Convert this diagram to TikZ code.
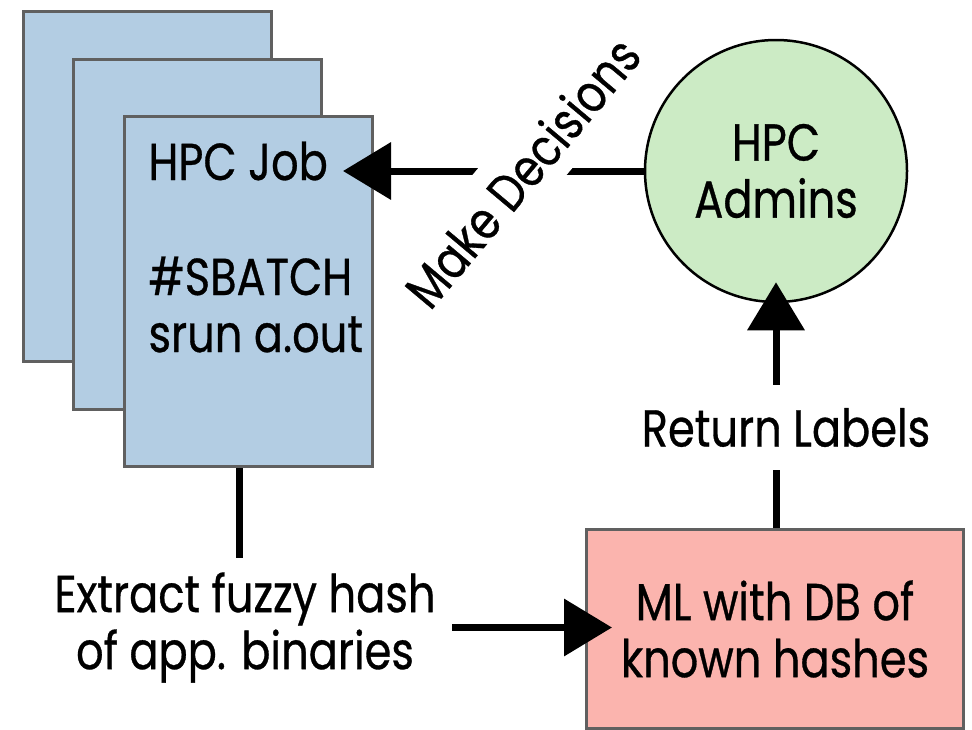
\documentclass[tikz,border=0pt]{standalone}
\usepackage{fontspec}
\setmainfont{Poppins}[FakeStretch=0.83, FakeBold=0.6]
\usepackage{tikz}
\usetikzlibrary{positioning,calc,arrows.meta}
\definecolor{jobblue}{RGB}{179,205,227}
\definecolor{admingreen}{RGB}{204,235,197}
\definecolor{mlpink}{RGB}{251,180,174}
\definecolor{cardgray}{RGB}{96,96,96}

\begin{document}
\begin{tikzpicture}[x=1pt,y=-1pt,
    card/.style={draw=cardgray, line width=3pt, fill=jobblue, minimum width=248pt, minimum height=350pt, anchor=north west, inner sep=0pt},
    lbl/.style={font=\fontsize{52}{57}\selectfont, align=center},
    link/.style={line width=7pt},
    arrow/.style={line width=7pt, -{Triangle[length=48pt,width=56pt]}}]
    \useasboundingbox (0,0) rectangle (972,729);

    % Stack of job scripts
    \node[card] (jobback) at (22,10) {};
    \node[card] (jobmid) at (72,58) {};
    \node[card] (job) at (123,115) {};
    \node[lbl, align=left, anchor=base west] (jobtext) at (145,352) {HPC Job\\[58pt]\#SBATCH\\srun a.out};

    % Admins and ML box
    \node[lbl, circle, draw, line width=2.5pt, fill=admingreen, minimum size=262pt] (admins) at (776,171) {HPC\\Admins};
    \node[lbl, draw=cardgray, line width=3pt, fill=mlpink, minimum width=377pt, minimum height=199pt, anchor=north west] (ml) at (585,528) {ML with DB of\\known hashes};

    % Plain labels
    \node[lbl, minimum width=414pt, minimum height=139pt] (extract) at (245,627.5) {Extract fuzzy hash\\of app. binaries};
    \node[lbl, minimum height=85pt] (labels) at (786,427.5) {Return Labels};

    % Connectors
    \draw[arrow] (admins.west) -- ([xshift=-31pt]job.east |- admins.west);
    \node[lbl, fill=white, rotate=50, inner xsep=0pt, inner ysep=16pt] (decide) at (522,172) {Make Decisions};
    \draw[link] ([xshift=-9pt]job.south) -- ([xshift=-9pt]job.south |- extract.north);
    \draw[arrow] (extract.east) -- ([xshift=27pt]ml.west |- extract.east);
    \draw[link] (admins.south |- ml.north) -- (admins.south |- labels.south);
    \draw[arrow, shorten >=-21pt] (admins.south |- labels.north) -- (admins.south);
\end{tikzpicture}
\end{document}
